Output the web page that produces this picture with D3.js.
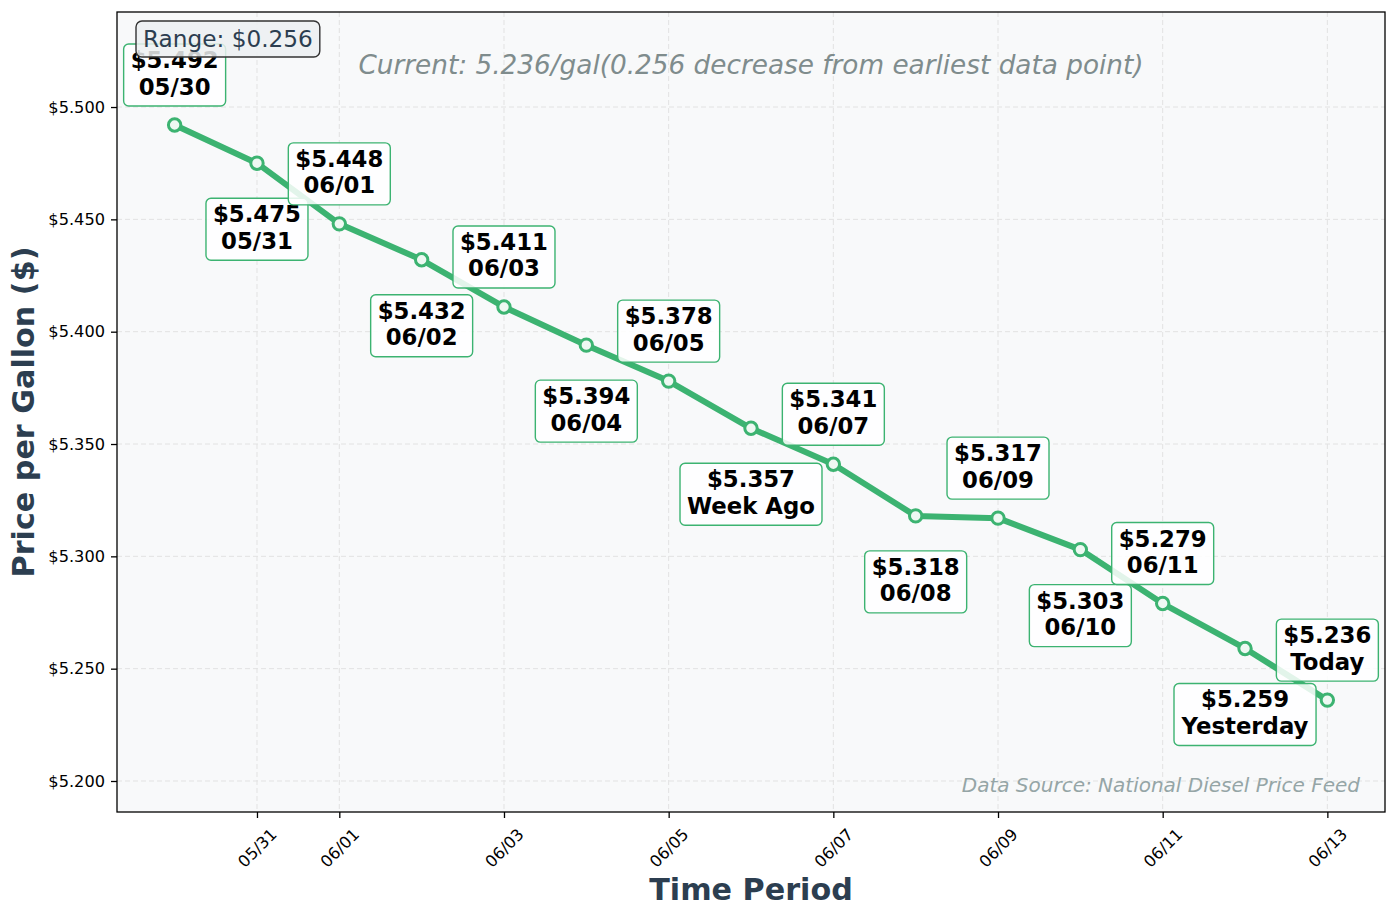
<!DOCTYPE html>
<html>
<head>
<meta charset="utf-8">
<script src="https://cdn.jsdelivr.net/npm/d3@7"></script>
<style>
  body { margin: 0; background: #fff; }
  svg { display: block; font-family: "DejaVu Sans", sans-serif; }
</style>
</head>
<body>
<div class="chart"></div>
<script>
// data
const dates = ["05/30", "05/31", "06/01", "06/02", "06/03", "06/04", "06/05", "06/06",
    "06/07", "06/08", "06/09", "06/10", "06/11", "06/12", "06/13"]
const prices = [5.492, 5.475, 5.448, 5.432, 5.411, 5.394, 5.378, 5.357,
    5.341, 5.318, 5.317, 5.303, 5.279, 5.259, 5.236]
const pointLabels = ["05/30", "05/31", "06/01", "06/02", "06/03", "06/04", "06/05", "Week Ago",
    "06/07", "06/08", "06/09", "06/10", "06/11", "Yesterday", "Today"]
const xTickLabels = ["05/31", "06/01", "06/03", "06/05", "06/07", "06/09", "06/11", "06/13"]
const yTickValues = [5.2, 5.25, 5.3, 5.35, 5.4, 5.45, 5.5]
const yRange = [5.1862, 5.5423]

let width = 1397, height = 918
let margin = { left: 117, right: 12, top: 12, bottom: 106 }
let plotW = width - margin.left - margin.right,
    plotH = height - margin.top - margin.bottom

let green = "#3cb371", dark = "#2c3e50"
let parse = d3.timeParse("%m/%d")
let dayVals = dates.map(parse)

// matplotlib style 5% padding on the x range
let span = dayVals[dayVals.length - 1] - dayVals[0]
let x = d3.scaleTime()
    .domain([new Date(+dayVals[0] - span * 0.05), new Date(+dayVals[dayVals.length - 1] + span * 0.05)])
    .range([margin.left, margin.left + plotW])
let y = d3.scaleLinear()
    .domain(yRange)
    .range([margin.top + plotH, margin.top])

let svg = d3.select(".chart")
    .append("svg")
    .attr("width", width)
    .attr("height", height)

svg.append("rect")
    .attr("x", margin.left).attr("y", margin.top)
    .attr("width", plotW).attr("height", plotH)
    .attr("fill", "#f8f9fa")

//网格
let xTickDates = xTickLabels.map(parse)
svg.append("g").selectAll("line")
    .data(xTickDates)
    .enter().append("line")
    .attr("x1", d => x(d)).attr("x2", d => x(d))
    .attr("y1", margin.top).attr("y2", margin.top + plotH)
    .attr("stroke", "#e2e2e2").attr("stroke-width", 1).attr("stroke-dasharray", "5,3")
svg.append("g").selectAll("line")
    .data(yTickValues)
    .enter().append("line")
    .attr("x1", margin.left).attr("x2", margin.left + plotW)
    .attr("y1", d => y(d)).attr("y2", d => y(d))
    .attr("stroke", "#e2e2e2").attr("stroke-width", 1).attr("stroke-dasharray", "5,3")

//坐标轴
let yAxis = svg.append("g")
    .attr("transform", `translate(${margin.left},0)`)
    .call(d3.axisLeft(y).tickValues(yTickValues).tickSize(6).tickPadding(6).tickFormat(d => "$" + d.toFixed(3)))
yAxis.select(".domain").remove()
yAxis.selectAll("text").attr("font-size", 16.2).attr("fill", "#000").attr("font-family", "DejaVu Sans")
yAxis.selectAll("line").attr("stroke", "#000").attr("stroke-width", 1.3)

let xAxis = svg.append("g")
    .attr("transform", `translate(0,${margin.top + plotH})`)
    .call(d3.axisBottom(x).tickValues(xTickDates).tickSize(6).tickFormat(d3.timeFormat("%m/%d")))
xAxis.select(".domain").remove()
xAxis.selectAll("line").attr("stroke", "#000").attr("stroke-width", 1.3)
xAxis.selectAll("text")
    .attr("font-size", 16.2).attr("fill", "#000").attr("font-family", "DejaVu Sans")
    .attr("text-anchor", "middle")
    .attr("dominant-baseline", "central")
    .attr("dy", null)
    .attr("y", 36)
    .attr("transform", "rotate(-45,0,36)")

svg.append("rect")
    .attr("x", margin.left).attr("y", margin.top)
    .attr("width", plotW).attr("height", plotH)
    .attr("fill", "none").attr("stroke", "#000").attr("stroke-width", 1.3)

//折线
let pts = prices.map((p, i) => ({ date: dayVals[i], price: p, label: pointLabels[i], i: i }))
svg.append("path")
    .datum(pts)
    .attr("fill", "none")
    .attr("stroke", green)
    .attr("stroke-width", 6)
    .attr("stroke-linejoin", "round")
    .attr("d", d3.line().x(d => x(d.date)).y(d => y(d.price)))
svg.append("g").selectAll("circle")
    .data(pts)
    .enter().append("circle")
    .attr("cx", d => x(d.date)).attr("cy", d => y(d.price))
    .attr("r", 6.2)
    .attr("fill", "#eef8f2")
    .attr("stroke", green)
    .attr("stroke-width", 3)

//标注
let labelG = svg.append("g")
pts.forEach(d => {
    let px = x(d.date), py = y(d.price)
    let cy = d.i % 2 === 0 ? py - 50 : py + 66
    let g = labelG.append("g")
    let box = g.append("rect")
    let t = g.append("text")
        .attr("text-anchor", "middle")
        .attr("font-size", 22.8)
        .attr("font-weight", "bold")
        .attr("fill", "#000")
    t.append("tspan").attr("x", px).attr("y", cy - 7).text("$" + d.price.toFixed(3))
    t.append("tspan").attr("x", px).attr("y", cy + 19.5).text(d.label)
    let w = t.node().getBBox().width + 14
    box.attr("x", px - w / 2).attr("y", cy - 31)
        .attr("width", w).attr("height", 62)
        .attr("rx", 5)
        .attr("fill", "#fff").attr("fill-opacity", 0.85)
        .attr("stroke", green).attr("stroke-width", 1.4)
})

//信息文字
let first = prices[0], last = prices[prices.length - 1]
svg.append("text")
    .attr("x", margin.left + plotW / 2)
    .attr("y", 74)
    .attr("text-anchor", "middle")
    .attr("font-size", 26.3)
    .attr("font-style", "italic")
    .attr("fill", "#7f8c8d")
    .text(`Current: ${last.toFixed(3)}/gal(${(first - last).toFixed(3)} decrease from earliest data point)`)

let rangeG = svg.append("g")
let rangeBox = rangeG.append("rect")
let rangeText = rangeG.append("text")
    .attr("x", 143).attr("y", 47)
    .attr("font-size", 23.2)
    .attr("fill", dark)
    .text(`Range: $${(d3.max(prices) - d3.min(prices)).toFixed(3)}`)
let rw = rangeText.node().getBBox().width
rangeBox.attr("x", 136).attr("y", 21)
    .attr("width", rw + 14).attr("height", 36)
    .attr("rx", 6)
    .attr("fill", "#ecf0f1").attr("fill-opacity", 0.85)
    .attr("stroke", "#333").attr("stroke-width", 1.4)

svg.append("text")
    .attr("x", margin.left + plotW - 25)
    .attr("y", 792)
    .attr("text-anchor", "end")
    .attr("font-size", 20)
    .attr("font-style", "italic")
    .attr("fill", "#95a5a6")
    .text("Data Source: National Diesel Price Feed")

//轴标题
svg.append("text")
    .attr("x", margin.left + plotW / 2)
    .attr("y", 900)
    .attr("text-anchor", "middle")
    .attr("font-size", 30.2)
    .attr("font-weight", "bold")
    .attr("fill", dark)
    .text("Time Period")
svg.append("text")
    .attr("transform", `translate(34,${margin.top + plotH / 2}) rotate(-90)`)
    .attr("text-anchor", "middle")
    .attr("font-size", 30.2)
    .attr("font-weight", "bold")
    .attr("fill", dark)
    .text("Price per Gallon ($)")
</script>
</body>
</html>
